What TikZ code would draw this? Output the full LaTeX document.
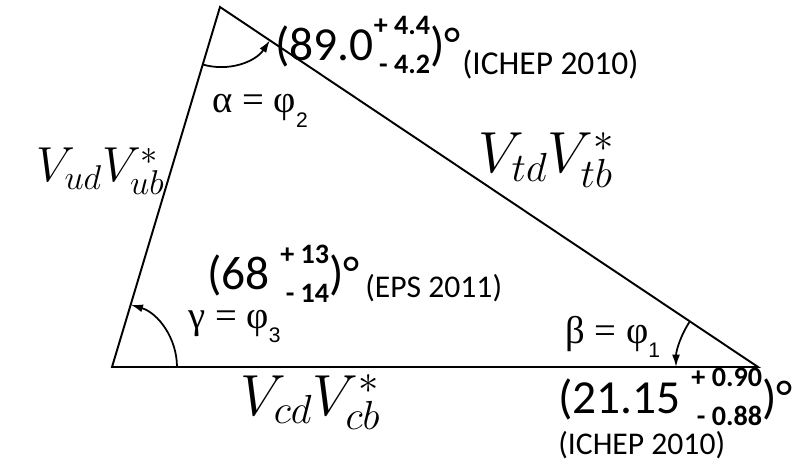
\RequirePackage{fix-cm}
\documentclass[tikz,border=0pt]{standalone}
\usepackage{fontspec}
\setmainfont{Carlito}
\newfontfamily\greekfont{Liberation Serif}
\newfontfamily\subfont{Liberation Sans}
\usetikzlibrary{arrows.meta,positioning}

\newcommand{\ckmfont}[1]{\fontsize{#1}{34}\selectfont}
\newcommand{\bigval}{\fontsize{27}{32}\selectfont}
\newcommand{\confname}{\fontsize{18}{22}\selectfont}
\newcommand{\anglabel}[3]{{\greekfont\fontsize{22}{26}\selectfont #1 = #2}\raisebox{-8.5pt}{\subfont\fontsize{12}{14}\selectfont #3}}
\newcommand{\errs}[2]{\raisebox{-7pt}{\bfseries\fontsize{16}{17}\selectfont\begin{tabular}[b]{@{}r@{}}#1\\[5pt]#2\end{tabular}}}

\begin{document}
\begin{tikzpicture}[x=0.02cm,y=0.02cm,inner sep=0pt,
  side/.style={line width=1.1pt},
  anglearc/.style={line width=1pt,-{Latex[length=7pt,width=4.5pt]}}]
  \useasboundingbox (0,0) rectangle (798,467);
  \coordinate (A) at (112,100);
  \coordinate (B) at (220,460);
  \coordinate (C) at (758,100);
  \draw[side] (A) -- (B) -- (C) -- cycle;
  % angle arcs
  \draw[anglearc] ([shift={(253.3:60)}]B) arc[start angle=253.3,end angle=326.2,radius=60];
  \draw[anglearc] ([shift={(0:65)}]A) arc[start angle=0,end angle=73.3,radius=65];
  \draw[anglearc] ([shift={(146.2:82)}]C) arc[start angle=146.2,end angle=180,radius=82];
  % sides
  \node[anchor=base] (ckmud) at (95,285) {\ckmfont{28} $V_{ud}V^*_{ub}$};
  \node[anchor=base] (ckmtd) at (540,294) {\ckmfont{33} $V_{td}V^*_{tb}$};
  \node[anchor=base] (ckmcd) at (304,52) {\ckmfont{33} $V_{cd}V^*_{cb}$};
  % angles
  \node[anchor=base west] (alpha) at (212,354) {\anglabel{α}{φ}{2}};
  \node[anchor=base west] (gamma) at (188,139) {\anglabel{γ}{φ}{3}};
  \node[anchor=base west] (beta) at (565,124) {\anglabel{β}{φ}{1}};
  \node[anchor=base west] (alphaval) at (275,406) {\bigval (89.0\errs{+ 4.4}{- 4.2})°};
  \node[anchor=base west] (alphaexp) at (462,392) {\fontsize{19}{22}\selectfont (ICHEP 2010)};
  \node[anchor=base west] (gammaval) at (207,177) {\bigval (68\hspace{6pt}\errs{+ 13}{- 14})°};
  \node[anchor=base west] (gammaexp) at (365,170) {\confname (EPS 2011)};
  \node[anchor=base west] (betaval) at (558,54) {\bigval (21.15\hspace{6pt}\errs{+ 0.90}{- 0.88})°};
  \node[below=0.84cm of betaval.base west,anchor=base west] (betaexp) {\confname (ICHEP 2010)};
\end{tikzpicture}
\end{document}
